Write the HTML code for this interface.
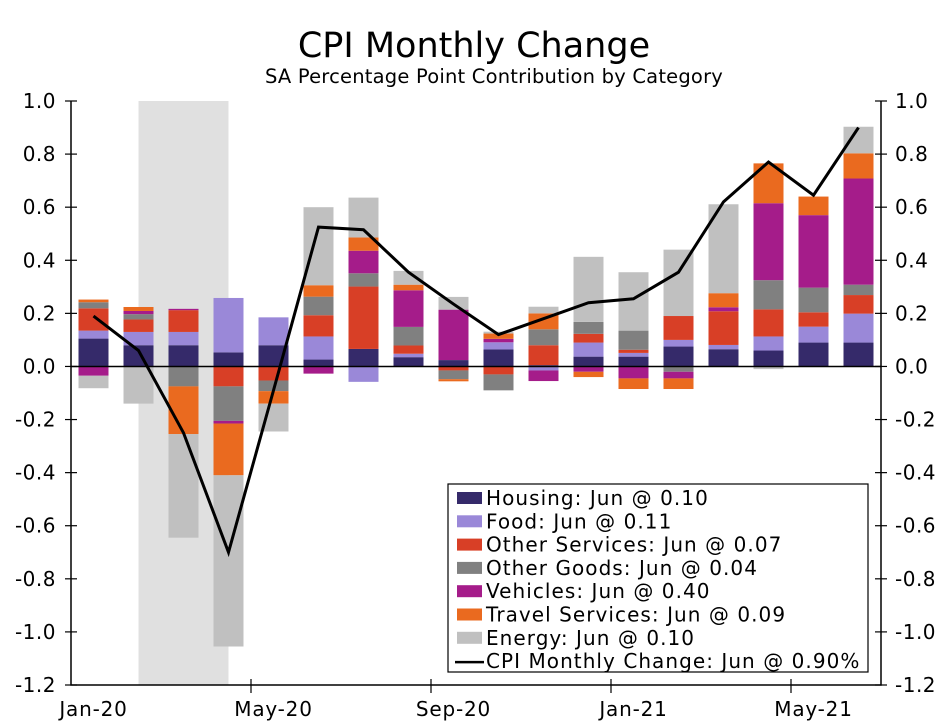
<!DOCTYPE html>
<html><head><meta charset="utf-8"><style>
body{margin:0;background:#fff;}
svg{display:block;font-family:"DejaVu Sans","Liberation Sans",sans-serif;}
</style></head><body>
<svg id="chart" width="947" height="727" viewBox="0 0 947 727">
<text x="474" y="57" text-anchor="middle" font-size="35" fill="#000">CPI Monthly Change</text>
<text x="494" y="83" text-anchor="middle" font-size="19.5" letter-spacing="0.2" fill="#000">SA Percentage Point Contribution by Category</text>
<g id="plot"></g>
</svg>
<script>
const months=["Jan-20","Feb-20","Mar-20","Apr-20","May-20","Jun-20","Jul-20","Aug-20","Sep-20","Oct-20","Nov-20","Dec-20","Jan-21","Feb-21","Mar-21","Apr-21","May-21","Jun-21"];
const housing=[0.105,0.08,0.08,0.053,0.08,0.026,0.066,0.035,0.024,0.064,0.005,0.037,0.037,0.075,0.065,0.06,0.09,0.09];
const food=[0.03,0.05,0.05,0.205,0.105,0.087,-0.058,0.013,0,0.027,-0.015,0.053,0.014,0.025,0.016,0.053,0.06,0.109];
const otherServices=[0.084,0.047,0.082,-0.075,-0.053,0.08,0.235,0.031,-0.015,-0.03,0.075,0.033,0.012,0.09,0.127,0.102,0.054,0.07];
const otherGoods=[0.023,0.02,-0.075,-0.13,-0.04,0.07,0.05,0.07,-0.033,-0.06,0.06,0.045,0.072,-0.02,0,0.11,0.093,0.039];
const vehicles=[-0.035,0.012,0.005,-0.01,0,-0.027,0.085,0.138,0.19,0.013,-0.04,-0.02,-0.045,-0.025,0.015,0.29,0.273,0.40];
const travel=[0.01,0.015,-0.18,-0.195,-0.047,0.043,0.05,0.021,-0.008,0.02,0.06,-0.02,-0.04,-0.04,0.053,0.15,0.07,0.095];
const energy=[-0.047,-0.14,-0.39,-0.645,-0.105,0.294,0.15,0.052,0.048,0.007,0.025,0.245,0.22,0.25,0.335,-0.01,0,0.1];
const cpi=[0.19,0.06,-0.25,-0.70,-0.09,0.525,0.515,0.355,0.235,0.12,0.18,0.24,0.255,0.355,0.62,0.77,0.645,0.90];
const yTicks=[1.0,0.8,0.6,0.4,0.2,0.0,-0.2,-0.4,-0.6,-0.8,-1.0,-1.2];
const xLabelIdx=[0,4,8,12,16];
const seriesNames=["housing","food","other-services","other-goods","vehicles","travel-services","energy"];
const legendLabels=["Housing: Jun @ 0.10","Food: Jun @ 0.11","Other Services: Jun @ 0.07","Other Goods: Jun @ 0.04","Vehicles: Jun @ 0.40","Travel Services: Jun @ 0.09","Energy: Jun @ 0.10"];

const series=[housing,food,otherServices,otherGoods,vehicles,travel,energy];
const colors=["#352a6a","#9a88d8","#d83f26","#808080","#a51c8a","#ea6a1f","#c0c0c0"];
const X0=71,X1=881,Ytop=101,Ybot=685,vMax=1.0,vMin=-1.2;
const step=(X1-X0)/months.length;
function xc(i){return X0+step*(i+0.5);}
function y(v){return Ytop+(vMax-v)/(vMax-vMin)*(Ybot-Ytop);}
const NS="http://www.w3.org/2000/svg";
const g=document.getElementById('plot');
function mk(t,a,p){const e=document.createElementNS(NS,t);for(const k in a)e.setAttribute(k,a[k]);(p||g).appendChild(e);return e;}

let rec=mk('rect',{x:X0+step*1.5,y:Ytop,width:step*2,height:Ybot-Ytop,fill:"#e0e0e0"});



const bw=30;
for(let i=0;i<months.length;i++){
  let pos=0,neg=0;
  for(let s=0;s<series.length;s++){
    const v=series[s][i];
    if(!v)continue;
    let a,b;
    if(v>0){a=pos;b=pos+v;pos=b;}else{a=neg;b=neg+v;neg=b;}
    const r=mk('rect',{x:xc(i)-bw/2,y:Math.min(y(a),y(b)),width:bw,height:Math.abs(y(a)-y(b)),fill:colors[s]});
    
    
  }
}
let zl=mk('line',{x1:X0,x2:X1,y1:y(0),y2:y(0),stroke:"#000","stroke-width":1.5});


let pts=cpi.map((v,i)=>xc(i)+","+y(v)).join(" ");
let pl=mk('polyline',{points:pts,fill:"none",stroke:"#000","stroke-width":3,"stroke-linejoin":"miter"});



let ax=mk('path',{d:`M${X0},${Ytop} V${Ybot} H${X1} V${Ytop}`,fill:"none",stroke:"#000","stroke-width":1.5});


for(const t of yTicks){
  const yy=y(t);
  mk('line',{x1:X0-6,x2:X0+6,y1:yy,y2:yy,stroke:"#000","stroke-width":1.2});
  mk('line',{x1:X1-6,x2:X1+6,y1:yy,y2:yy,stroke:"#000","stroke-width":1.2});
  const lab=t.toFixed(1);
  let l=mk('text',{x:X0-15,y:yy+7,"text-anchor":"end","font-size":20,"letter-spacing":0.5});
  l.textContent=lab;
  
  
  let r=mk('text',{x:X1+14,y:yy+7,"text-anchor":"start","font-size":20,"letter-spacing":0.5});
  r.textContent=lab;
  
  
}
for(const i of xLabelIdx){
  const bx=X0+step*i;
  if(i>0)mk('line',{x1:bx,x2:bx,y1:Ybot-6,y2:Ybot+8,stroke:"#000","stroke-width":1.2});
  let t=mk('text',{x:xc(i),y:Ybot+31,"text-anchor":"middle","font-size":20,"letter-spacing":0.8});
  t.textContent=months[i];
  
  
}

const lg=mk('g',{});


mk('rect',{x:448,y:484,width:420,height:188,fill:"#fff",stroke:"#000","stroke-width":1.2},lg);
for(let s=0;s<=legendLabels.length;s++){
  const yy=486+s*23.3;
  const e=mk('g',{},lg);
  
  
  if(s<legendLabels.length) mk('rect',{x:457,y:yy+6,width:25,height:12,fill:colors[s]},e);
  else mk('line',{x1:455,x2:484,y1:yy+13,y2:yy+13,stroke:"#000","stroke-width":2.5},e);
  const t=mk('text',{x:486,y:yy+19,"font-size":20,"letter-spacing":1.05},e);
  t.textContent=s<legendLabels.length?legendLabels[s]:"CPI Monthly Change: Jun @ 0.90%";
}
</script>
</body></html>
